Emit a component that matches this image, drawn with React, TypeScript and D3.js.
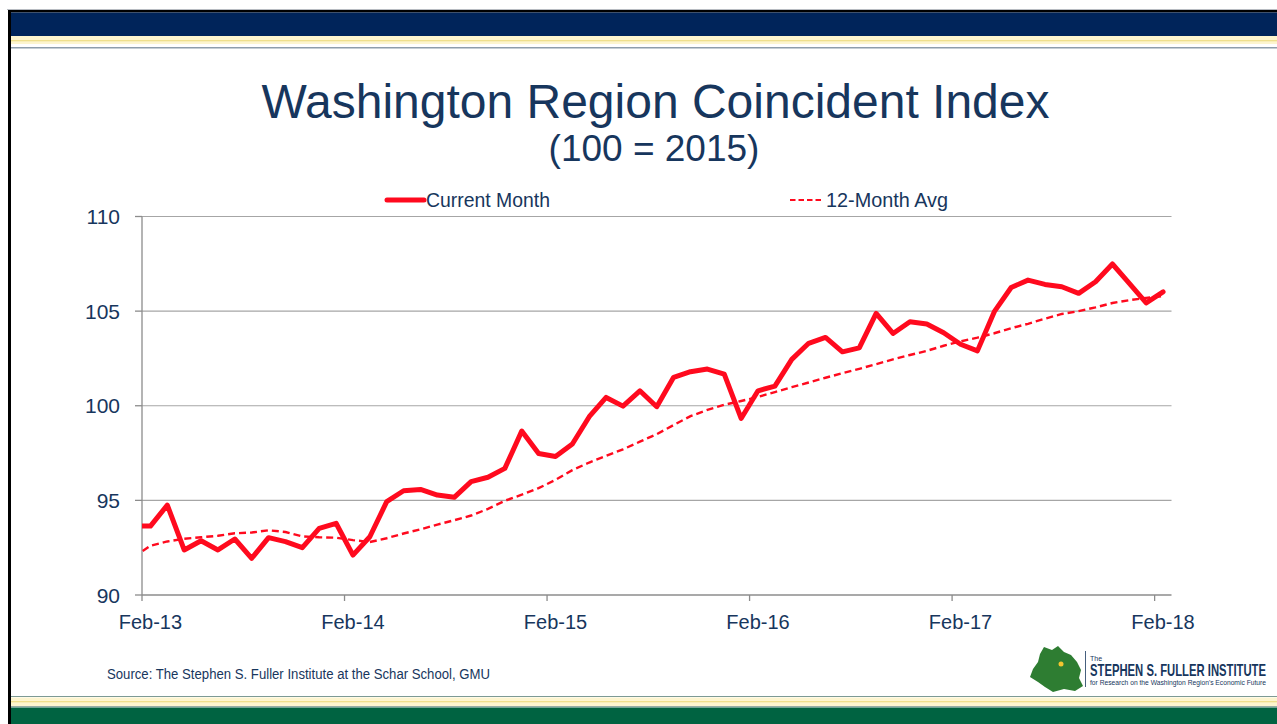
import React from 'react';
import * as d3 from 'd3';

// Monthly categories Jan-13 .. Feb-18 (Jan-13 sits just left of the plot and is clipped)
const categories: string[] = d3
  .timeMonths(new Date(2013, 0, 1), new Date(2018, 2, 1))
  .map((d) => d3.timeFormat('%b-%y')(d));

const tickLabels = ['Feb-13', 'Feb-14', 'Feb-15', 'Feb-16', 'Feb-17', 'Feb-18'];
const yTicks = [90, 95, 100, 105, 110];

const currentMonth = [
  93.64,
  93.64, 94.75, 92.38, 92.87, 92.38, 92.96, 91.94, 93.03, 92.82, 92.5, 93.52, 93.79,
  92.11, 93.08, 94.93, 95.51, 95.58, 95.28, 95.16, 95.99, 96.22, 96.69, 98.66, 97.48,
  97.32, 97.98, 99.42, 100.44, 99.98, 100.79, 99.95, 101.5, 101.8, 101.94, 101.67, 99.33,
  100.79, 101.04, 102.45, 103.3, 103.61, 102.85, 103.06, 104.88, 103.82, 104.44, 104.32, 103.86,
  103.25, 102.9, 104.97, 106.25, 106.64, 106.41, 106.29, 105.94, 106.55, 107.49, 106.47, 105.44,
  106.02,
];

const avg12 = [
  92.0,
  92.6, 92.83, 92.97, 93.05, 93.13, 93.26, 93.3, 93.42, 93.33, 93.1, 93.05, 93.03,
  92.9, 92.8, 93.0, 93.25, 93.47, 93.72, 93.95, 94.2, 94.55, 94.98, 95.3, 95.65,
  96.08, 96.6, 97.0, 97.35, 97.7, 98.1, 98.5, 98.98, 99.45, 99.78, 100.05, 100.25,
  100.47, 100.72, 100.98, 101.23, 101.48, 101.72, 101.95, 102.2, 102.45, 102.68, 102.9, 103.17,
  103.4, 103.6, 103.83, 104.1, 104.33, 104.6, 104.85, 105.0, 105.2, 105.43, 105.58, 105.7,
  105.8,
];

const seriesNames = ['Current Month', '12-Month Avg'];

const W = 1277;
const H = 724;
const plot = { left: 142, right: 1171.5, top: 216.5, bottom: 595 };
const NAVY = '#17365d';
const RED = '#ff0a1e';
const FONT = "'Liberation Sans', Arial, sans-serif";

export default function App() {
  const x = d3.scaleLinear().domain([0.5, categories.length - 0.5]).range([plot.left, plot.right]);
  const y = d3.scaleLinear().domain([90, 110]).range([plot.bottom, plot.top]);
  const line = d3
    .line<number>()
    .x((_, i) => x(i))
    .y((d) => y(d));

  const tickIdx = tickLabels.map((t) => categories.indexOf(t));

  return (
    <svg width={W} height={H} style={{ position: 'absolute', left: 0, top: 0, background: '#fff' }}>
      <defs>
        <clipPath id="plotclip">
          <rect x={plot.left} y={plot.top - 10} width={plot.right - plot.left + 10} height={plot.bottom - plot.top + 20} />
        </clipPath>
      </defs>
      {/* slide frame */}
      <rect x={0} y={0} width={W} height={H} fill="#fff" />
      <line x1={7} x2={W} y1={9.5} y2={9.5} stroke="#b8bcc2" strokeWidth={1} />
      <rect x={8} y={10} width={W - 8} height={2.5} fill="#000" />
      <rect x={8} y={10} width={3} height={H - 10} fill="#000" />
      <rect x={11} y={12.5} width={W - 11} height={23.5} fill="#00245a" />
      <rect x={11} y={36} width={W - 11} height={8} fill="#fdf5cf" />
      <rect x={11} y={40} width={W - 11} height={1.3} fill="#efdf8c" />
      <rect x={11} y={47} width={W - 11} height={1.5} fill="#8e9dab" />

      <rect x={11} y={696} width={W - 11} height={1} fill="#7d9a94" />
      <rect x={11} y={697.5} width={W - 11} height={9} fill="#fdf5cf" />
      <rect x={11} y={701} width={W - 11} height={1.3} fill="#efdf8c" />
      <rect x={11} y={706.2} width={W - 11} height={1} fill="#7d9a94" />
      <rect x={11} y={707.5} width={W - 11} height={H - 707.5} fill="#006341" />

      {/* titles */}
      <text x={655.5} y={118} textAnchor="middle" fontFamily={FONT} fontSize={48} fill={NAVY}>
        Washington Region Coincident Index
      </text>
      <text x={654} y={161} textAnchor="middle" fontFamily={FONT} fontSize={37} fill={NAVY}>
        (100 = 2015)
      </text>

      {/* legend */}
      <line x1={387} x2={424} y1={200} y2={200} stroke={RED} strokeWidth={5} strokeLinecap="round" />
      <text x={426} y={207} fontFamily={FONT} fontSize={21} fill={NAVY} textLength={124} lengthAdjust="spacingAndGlyphs">
        {seriesNames[0]}
      </text>
      <line x1={790} x2={824} y1={200} y2={200} stroke={RED} strokeWidth={2.2} strokeDasharray="5.5,3" />
      <text x={826} y={207} fontFamily={FONT} fontSize={21} fill={NAVY} textLength={122} lengthAdjust="spacingAndGlyphs">
        {seriesNames[1]}
      </text>

      {/* gridlines */}
      {yTicks.slice(1).map((t) => (
        <line key={t} x1={plot.left} x2={plot.right} y1={y(t)} y2={y(t)} stroke="#a6a6a6" strokeWidth={1.2} />
      ))}
      {/* axes */}
      <line x1={plot.left} x2={plot.left} y1={plot.top} y2={plot.bottom} stroke="#8c8c8c" strokeWidth={1.3} />
      <line x1={plot.left} x2={plot.right} y1={plot.bottom} y2={plot.bottom} stroke="#8c8c8c" strokeWidth={1.3} />
      {yTicks.map((t) => (
        <g key={t}>
          <line x1={plot.left - 7} x2={plot.left} y1={y(t)} y2={y(t)} stroke="#8c8c8c" strokeWidth={1.3} />
          <text x={120} y={y(t)} dy="0.36em" textAnchor="end" fontFamily={FONT} fontSize={21} fill={NAVY}>
            {t}
          </text>
        </g>
      ))}
      {tickIdx.map((i, k) => (
        <g key={k}>
          <line x1={x(i - 0.5)} x2={x(i - 0.5)} y1={plot.bottom} y2={plot.bottom + 6} stroke="#8c8c8c" strokeWidth={1.3} />
          <text x={x(i)} y={629} textAnchor="middle" fontFamily={FONT} fontSize={20} fill={NAVY}>
            {tickLabels[k]}
          </text>
        </g>
      ))}

      {/* series */}
      <g clipPath="url(#plotclip)">
        <path d={line(avg12) || ''} fill="none" stroke={RED} strokeWidth={2.4} strokeDasharray="7,4" />
        <path d={line(currentMonth) || ''} fill="none" stroke={RED} strokeWidth={5} strokeLinejoin="round" strokeLinecap="round" />
      </g>

      {/* source */}
      <text x={107} y={679} fontFamily={FONT} fontSize={14} fill={NAVY} textLength={383} lengthAdjust="spacingAndGlyphs">
        Source: The Stephen S. Fuller Institute at the Schar School, GMU
      </text>

      {/* logo */}
      <g>
        <path
          d="M1044,647 L1052,650 L1058,646 L1064,652 L1071,655 L1077,662 L1081,670 L1079,678 L1083,686 L1075,691 L1064,689 L1053,692 L1045,687 L1038,682 L1030,677 L1033,669 L1038,662 L1040,654 Z"
          fill="#2e7d32"
        />
        <circle cx={1061} cy={664} r={2.5} fill="#f3c530" />
        <line x1={1085.5} x2={1085.5} y1={651} y2={687} stroke="#17365d" strokeWidth={0.8} />
        <text x={1090} y={661} fontFamily={FONT} fontSize={7} fill={NAVY}>The</text>
        <g transform="translate(1090,675.5) scale(0.66,1)">
          <text x={0} y={0} fontFamily={FONT} fontSize={16.5} fontWeight="bold" fill={NAVY} textLength={176 / 0.66} lengthAdjust="spacingAndGlyphs">
            STEPHEN S. FULLER INSTITUTE
          </text>
        </g>
        <g transform="translate(1090,685) scale(0.85,1)">
          <text x={0} y={0} fontFamily={FONT} fontSize={7} fill={NAVY} textLength={176 / 0.85} lengthAdjust="spacingAndGlyphs">
            for Research on the Washington Region's Economic Future
          </text>
        </g>
      </g>
    </svg>
  );
}
